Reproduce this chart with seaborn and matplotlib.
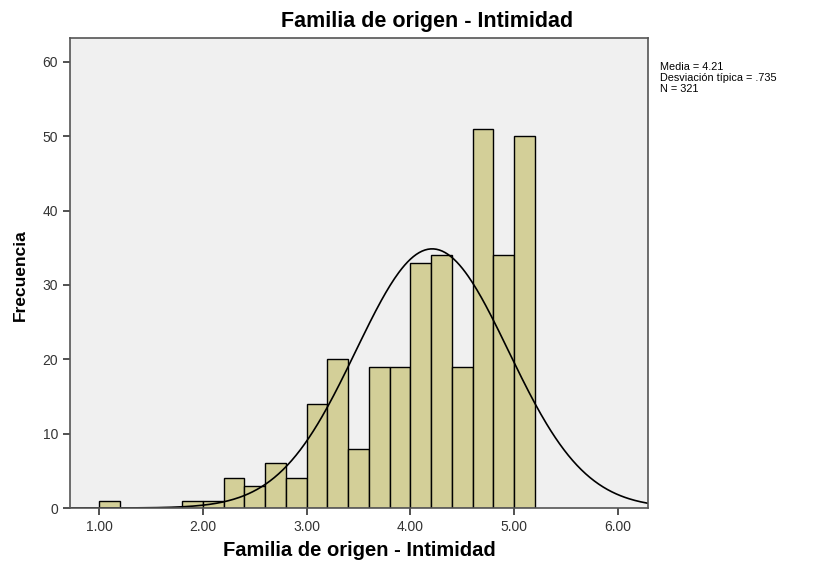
import numpy as np
import matplotlib
matplotlib.use("Agg")
import matplotlib.pyplot as plt
import seaborn as sns

# histogram data (bin left edges, width 0.2)
bin_left = [1.0, 1.2, 1.4, 1.6, 1.8, 2.0, 2.2, 2.4, 2.6, 2.8, 3.0, 3.2, 3.4,
            3.6, 3.8, 4.0, 4.2, 4.4, 4.6, 4.8, 5.0]
counts = [1, 0, 0, 0, 1, 1, 4, 3, 6, 4, 14, 20, 8, 19, 19, 33, 34, 19, 51, 34, 50]
bin_width = 0.2

mean_val = 4.21
sd_val = 0.735
n_val = 321

x_ticks = [1.0, 2.0, 3.0, 4.0, 5.0, 6.0]
y_ticks = [0, 10, 20, 30, 40, 50, 60]

sns.set_style("white")
plt.rcParams['font.family'] = ['Liberation Sans', 'DejaVu Sans']

fig = plt.figure(figsize=(8.21, 5.61), dpi=100)
ax = fig.add_axes([70 / 821, 53 / 561, 578 / 821, 470 / 561])
ax.set_facecolor('#f0f0f0')

edges = list(bin_left) + [bin_left[-1] + bin_width]
centers = [b + bin_width / 2 for b in bin_left]
sns.histplot(x=centers, weights=counts, bins=edges, ax=ax,
             color='#d3cf98', edgecolor='black', linewidth=1.0, alpha=1.0)

# fitted normal curve
xs = np.linspace(0.72, 6.29, 400)
ys = n_val * bin_width / (sd_val * np.sqrt(2 * np.pi)) * np.exp(-0.5 * ((xs - mean_val) / sd_val) ** 2)
sns.lineplot(x=xs, y=ys, ax=ax, color='black', linewidth=1.2)

ax.set_xlim(0.72, 6.29)
ax.set_ylim(0, 63.2)
ax.set_xticks(x_ticks)
ax.set_xticklabels([f"{t:.2f}" for t in x_ticks])
ax.set_yticks(y_ticks)
ax.set_yticklabels([str(t) for t in y_ticks])
ax.tick_params(axis='both', direction='out', length=5, width=1.2, colors='#333333',
               labelsize=10, bottom=True, left=True, labelcolor='#333333')
for s in ax.spines.values():
    s.set_color('#555555')
    s.set_linewidth(1.2)

ax.set_xlabel("")
ax.set_ylabel("")
fig.text(427 / 821, 1 - 22 / 561, "Familia de origen - Intimidad", fontsize=15.5,
         fontweight='bold', ha='center', va='center', color='black')
fig.text(359 / 821, 1 - 550 / 561, "Familia de origen - Intimidad", fontsize=14.5,
         fontweight='bold', ha='center', va='center', color='black')
fig.text(20 / 821, 1 - 275 / 561, "Frecuencia", fontsize=12.5, fontweight='bold',
         ha='center', va='center', rotation=90, color='black')

fig.text(660 / 821, 1 - 62 / 561,
         f"Media = {mean_val:.2f}\nDesviación típica = .735\nN = {n_val}",
         fontsize=7.8, va='top', ha='left', linespacing=1.1, color='black')

fig.savefig("out.png", dpi=100)
